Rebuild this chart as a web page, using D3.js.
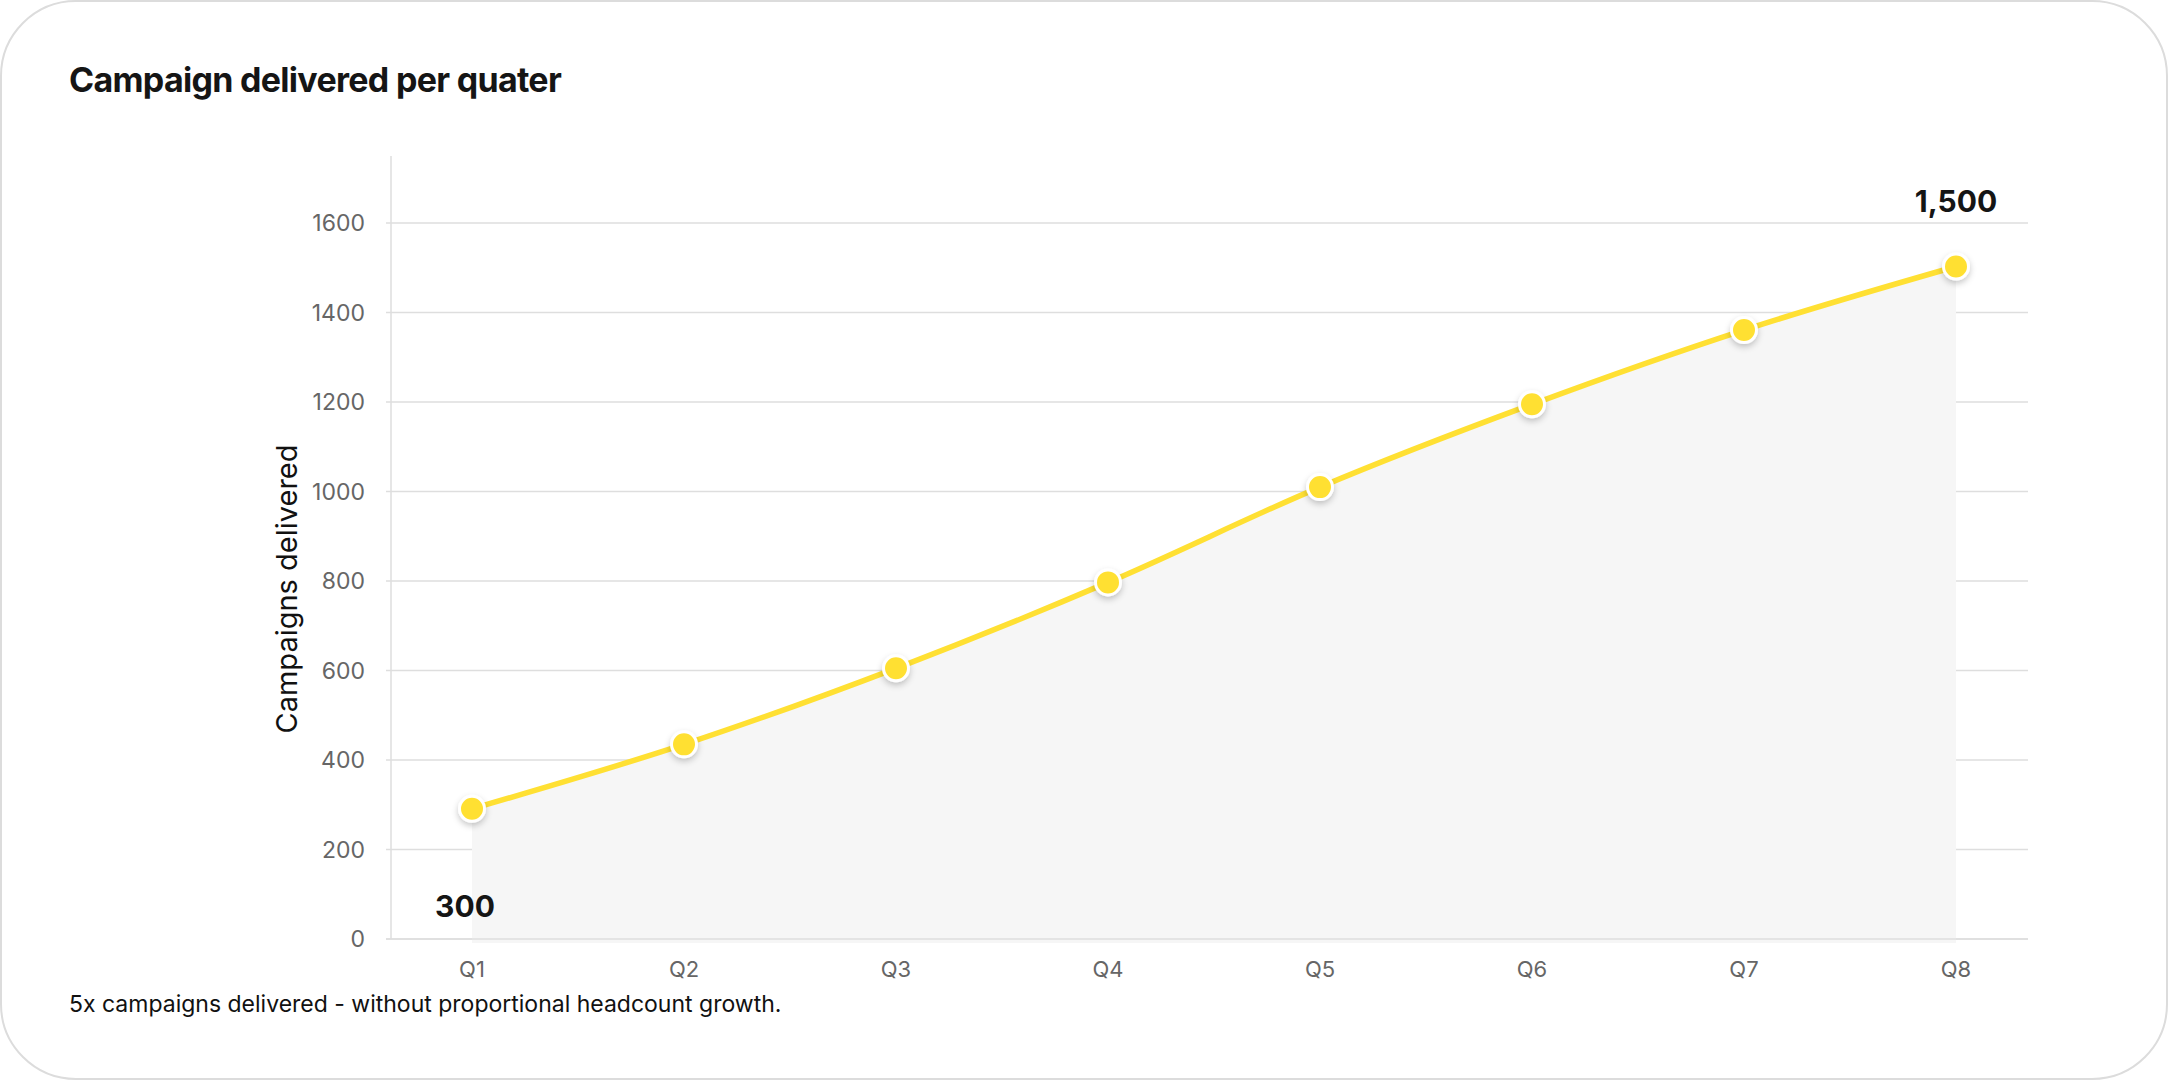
<!DOCTYPE html>
<html>
<head>
<meta charset="utf-8">
<script src="https://cdn.jsdelivr.net/npm/d3@7"></script>
<style>
  html, body { margin: 0; padding: 0; background: #fff; }
  svg { display: block; font-family: Inter, "Noto Sans", sans-serif; }
</style>
</head>
<body>
<svg id="chart" width="2168" height="1080"></svg>
<script>
// data
var quarters = ["Q1", "Q2", "Q3", "Q4", "Q5", "Q6", "Q7", "Q8"];
var campaigns = [291, 435, 605, 797, 1010, 1195, 1361, 1503];
var yTicks = [0, 200, 400, 600, 800, 1000, 1200, 1400, 1600];
var firstLabel = "300";
var lastLabel = "1,500";

var svg = d3.select("#chart");

// drop shadow for the dots
var defs = svg.append("defs");
defs.append("filter")
    .attr("id", "dotShadow")
    .attr("x", "-50%").attr("y", "-50%")
    .attr("width", "200%").attr("height", "200%")
  .append("feDropShadow")
    .attr("dx", 0).attr("dy", 3)
    .attr("stdDeviation", 3)
    .attr("flood-color", "#000")
    .attr("flood-opacity", 0.22);

// card
svg.append("rect")
    .attr("x", 1).attr("y", 1)
    .attr("width", 2166).attr("height", 1078)
    .attr("rx", 75).attr("ry", 75)
    .attr("fill", "#fff")
    .attr("stroke", "#dcdcdc")
    .attr("stroke-width", 2);

svg.append("text")
    .attr("x", 69).attr("y", 92)
    .style("font-size", "34px")
    .style("font-weight", 700)
    .style("letter-spacing", "-0.7px")
    .attr("fill", "#151515")
    .text("Campaign delivered per quater");

var xScale = d3.scalePoint()
    .domain(quarters)
    .range([472, 1956]);

var yScale = d3.scaleLinear()
    .domain([0, 1750])
    .range([939, 156]);

var axisX = 391, gridLeft = 386, gridRight = 2028;

// gridlines
svg.append("g")
    .selectAll("line")
    .data(yTicks)
  .enter().append("line")
    .attr("x1", gridLeft).attr("x2", gridRight)
    .attr("y1", function(d) { return yScale(d); })
    .attr("y2", function(d) { return yScale(d); })
    .attr("stroke", "#dedede")
    .attr("stroke-width", 1.5);

// y axis line
svg.append("line")
    .attr("x1", axisX).attr("x2", axisX)
    .attr("y1", yScale(1750)).attr("y2", yScale(0))
    .attr("stroke", "#dedede")
    .attr("stroke-width", 1.5);

// y tick labels
svg.append("g")
    .selectAll("text")
    .data(yTicks)
  .enter().append("text")
    .attr("x", 365)
    .attr("y", function(d) { return yScale(d); })
    .attr("dy", "0.35em")
    .attr("text-anchor", "end")
    .style("font-size", "23px")
    .attr("fill", "#666")
    .text(function(d) { return d; });

// y title
svg.append("text")
    .attr("transform", "translate(297," + 589 + ") rotate(-90)")
    .attr("text-anchor", "middle")
    .style("font-size", "29px")
    .attr("fill", "#111")
    .text("Campaigns delivered");

// x tick labels
svg.append("g")
    .selectAll("text")
    .data(quarters)
  .enter().append("text")
    .attr("x", function(d) { return xScale(d); })
    .attr("y", 977)
    .attr("text-anchor", "middle")
    .style("font-size", "22px")
    .attr("fill", "#666")
    .text(function(d) { return d; });

var dataset = quarters.map(function(q, i) { return {q: q, v: campaigns[i]}; });

// area under the line
var area = d3.area()
    .x(function(d) { return xScale(d.q); })
    .y0(yScale(0) + 4)
    .y1(function(d) { return yScale(d.v); })
    .curve(d3.curveMonotoneX);

svg.append("path")
    .datum(dataset)
    .attr("d", area)
    .attr("fill", "#f6f6f6");

// redraw the zero line over the area
svg.append("line")
    .attr("x1", gridLeft).attr("x2", gridRight)
    .attr("y1", yScale(0)).attr("y2", yScale(0))
    .attr("stroke", "#dedede")
    .attr("stroke-width", 1.5);

var line = d3.line()
    .x(function(d) { return xScale(d.q); })
    .y(function(d) { return yScale(d.v); })
    .curve(d3.curveMonotoneX);

svg.append("path")
    .datum(dataset)
    .attr("d", line)
    .attr("fill", "none")
    .attr("stroke", "#ffe033")
    .attr("stroke-width", 5.5);

svg.selectAll(".dot")
    .data(dataset)
  .enter().append("circle")
    .attr("class", "dot")
    .attr("cx", function(d) { return xScale(d.q); })
    .attr("cy", function(d) { return yScale(d.v); })
    .attr("r", 12.5)
    .attr("fill", "#ffe033")
    .attr("stroke", "#fff")
    .attr("stroke-width", 3)
    .attr("filter", "url(#dotShadow)");

// first and last value labels
svg.append("text")
    .attr("x", xScale(quarters[0]) - 7)
    .attr("y", 917)
    .attr("text-anchor", "middle")
    .style("font-size", "30px")
    .style("font-weight", 700)
    .attr("fill", "#151515")
    .text(firstLabel);

svg.append("text")
    .attr("x", xScale(quarters[quarters.length - 1]))
    .attr("y", 212)
    .attr("text-anchor", "middle")
    .style("font-size", "30px")
    .style("font-weight", 700)
    .attr("fill", "#151515")
    .text(lastLabel);

// footnote
svg.append("text")
    .attr("x", 69).attr("y", 1012)
    .style("font-size", "23px")
    .attr("fill", "#111")
    .text("5x campaigns delivered - without proportional headcount growth.");
</script>
</body>
</html>
